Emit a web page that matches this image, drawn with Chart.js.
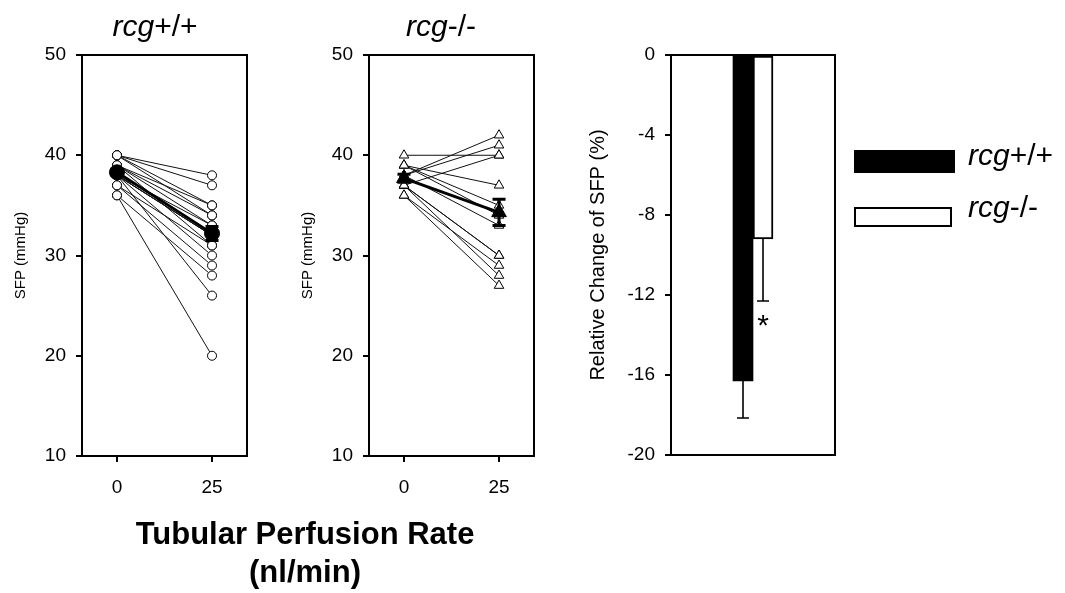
<!DOCTYPE html>
<html><head><meta charset="utf-8">
<script src="https://cdn.jsdelivr.net/npm/chart.js@4.4.1/dist/chart.umd.min.js"></script>
<style>
body{margin:0;background:#fff;width:1065px;height:593px;overflow:hidden;position:relative;font-family:"Liberation Sans",Arial,sans-serif;color:#000;}
canvas{position:absolute;top:0;}
.t{position:absolute;white-space:nowrap;color:#000;}
</style></head><body>
<canvas id="cA" style="left:0px" width="265" height="520"></canvas>
<canvas id="cB" style="left:287px" width="265" height="520"></canvas>
<canvas id="cC" style="left:575px" width="280" height="520"></canvas>

<div class="t" style="left:55px;top:11px;width:200px;text-align:center;font-size:30px;line-height:30px;"><i>rcg</i>+/+</div>
<div class="t" style="left:341px;top:11px;width:200px;text-align:center;font-size:30px;line-height:30px;"><i>rcg</i>-/-</div>

<div class="t" style="left:854px;top:150px;width:101px;height:23px;background:#000;"></div>
<div class="t" style="left:854px;top:207px;width:98px;height:20px;border:2px solid #000;box-sizing:border-box;background:#fff;"></div>
<div class="t" style="left:968px;top:140px;font-size:30px;line-height:30px;"><i>rcg</i>+/+</div>
<div class="t" style="left:968px;top:192px;font-size:30px;line-height:30px;"><i>rcg</i>-/-</div>

<div class="t" style="left:105px;top:515px;width:400px;text-align:center;font-size:31px;line-height:38px;font-weight:bold;">Tubular Perfusion Rate<br>(nl/min)</div>

<script>
// ---- data ----
const perfusionRates = [0, 25];
const sfpTicks = [10, 20, 30, 40, 50];
const wtStart = [40, 40, 39, 40, 38, 39, 38, 38, 39, 37, 38, 37, 36, 38, 36, 39, 40, 38];
const wtEnd   = [38, 37, 35, 34, 33, 33, 32, 32, 31, 31, 30, 29, 28, 26, 20, 34, 35, 32];
const wtMean  = [38.3, 32.2];
const wtSem   = [0.3, 0.7];
const koStart = [38, 40, 38, 37, 39, 39, 39, 37, 36, 37, 36, 38, 37];
const koEnd   = [42, 40, 41, 40, 37, 35, 34, 30, 29, 28, 27, 33, 30];
const koMean  = [37.7, 34.3];
const koSem   = [0.4, 1.3];
const groups = ['rcg+/+', 'rcg-/-'];
const relChange = [-16.3, -9.2];
const relChangeSem = [1.85, 3.1];
const relTicks = [0, -4, -8, -12, -16, -20];

const FONT = '"Liberation Sans", Arial, sans-serif';

const boxPlugin = {
  id: 'box',
  afterDatasetsDraw(chart) {
    const {ctx, chartArea: a} = chart;
    ctx.save();
    ctx.strokeStyle = '#000'; ctx.lineWidth = 2;
    ctx.strokeRect(a.left, a.top, a.right - a.left, a.bottom - a.top);
    ctx.restore();
  }
};

function meanErrPlugin(means, sems, cap, width) {
  return {
    id: 'meanErr',
    afterDatasetsDraw(chart) {
      const xs = chart.scales.x, ys = chart.scales.y, ctx = chart.ctx;
      ctx.save();
      ctx.strokeStyle = '#000'; ctx.lineWidth = width;
      perfusionRates.forEach((xv, i) => {
        const px = xs.getPixelForValue(xv);
        const top = ys.getPixelForValue(means[i] + sems[i]);
        const bot = ys.getPixelForValue(means[i] - sems[i]);
        ctx.beginPath();
        ctx.moveTo(px, top); ctx.lineTo(px, bot);
        ctx.moveTo(px - cap, top); ctx.lineTo(px + cap, top);
        ctx.moveTo(px - cap, bot); ctx.lineTo(px + cap, bot);
        ctx.stroke();
      });
      ctx.restore();
    }
  };
}

function pairedChart(id, starts, ends, means, sems, style, subjRadius, meanRadius) {
  // mean dataset first so it is drawn on top
  const datasets = [{
    data: perfusionRates.map((x, i) => ({x: x, y: means[i]})),
    borderColor: '#000', borderWidth: 2.8,
    pointStyle: style, pointRadius: meanRadius,
    pointBackgroundColor: '#000', pointBorderColor: '#000', pointBorderWidth: 1
  }];
  starts.forEach((s, i) => datasets.push({
    data: [{x: perfusionRates[0], y: s}, {x: perfusionRates[1], y: ends[i]}],
    borderColor: '#111', borderWidth: 1,
    pointStyle: style, pointRadius: subjRadius,
    pointBackgroundColor: '#fff', pointBorderColor: '#000', pointBorderWidth: 1
  }));
  return new Chart(document.getElementById(id), {
    type: 'line',
    data: {datasets},
    plugins: [boxPlugin, meanErrPlugin(means, sems, 6.5, 3)],
    options: {
      responsive: false, animation: false, devicePixelRatio: 1,
      layout: {padding: {left: 0, top: 55, right: 18, bottom: 0}},
      plugins: {legend: {display: false}, tooltip: {enabled: false}},
      scales: {
        x: {
          type: 'linear', min: -9.2, max: 34.2,
          afterBuildTicks: s => { s.ticks = perfusionRates.map(v => ({value: v})); },
          afterFit: s => { s.height = 64; },
          grid: {display: true, drawOnChartArea: false, drawTicks: true, tickLength: 6, lineWidth: 2, color: '#000'},
          border: {display: false},
          ticks: {color: '#000', font: {family: FONT, size: 19}, padding: 14, maxRotation: 0}
        },
        y: {
          type: 'linear', min: 10, max: 50,
          afterBuildTicks: s => { s.ticks = sfpTicks.map(v => ({value: v})); },
          afterFit: s => { s.width = 82; },
          grid: {display: true, drawOnChartArea: false, drawTicks: true, tickLength: 6, lineWidth: 2, color: '#000'},
          border: {display: false},
          ticks: {color: '#000', font: {family: FONT, size: 19}, padding: 10},
          title: {display: true, text: 'SFP (mmHg)', color: '#000', font: {family: FONT, size: 15}, padding: {top: 12, bottom: 0}}
        }
      }
    }
  });
}

pairedChart('cA', wtStart, wtEnd, wtMean, wtSem, 'circle', 4.5, 7.5);
pairedChart('cB', koStart, koEnd, koMean, koSem, 'triangle', 5.5, 8.5);

const barErrPlugin = {
  id: 'barErr',
  afterDatasetsDraw(chart) {
    const ys = chart.scales.y, ctx = chart.ctx;
    ctx.save();
    ctx.strokeStyle = '#000'; ctx.lineWidth = 1.6;
    relChange.forEach((v, i) => {
      const el = chart.getDatasetMeta(i).data[0];
      const y1 = ys.getPixelForValue(v), y2 = ys.getPixelForValue(v - relChangeSem[i]);
      ctx.beginPath();
      ctx.moveTo(el.x, y1); ctx.lineTo(el.x, y2);
      ctx.moveTo(el.x - 6, y2); ctx.lineTo(el.x + 6, y2);
      ctx.stroke();
    });
    const el = chart.getDatasetMeta(1).data[0];
    ctx.fillStyle = '#000'; ctx.textAlign = 'center'; ctx.textBaseline = 'alphabetic';
    ctx.font = '30px ' + FONT;
    ctx.fillText('*', el.x, ys.getPixelForValue(relChange[1] - relChangeSem[1]) + 34);
    ctx.restore();
  }
};

new Chart(document.getElementById('cC'), {
  type: 'bar',
  data: {
    labels: [''],
    datasets: [
      {label: groups[0], data: [relChange[0]], backgroundColor: '#000', borderColor: '#000', borderWidth: 0, barThickness: 20},
      {label: groups[1], data: [relChange[1]], backgroundColor: '#fff', borderColor: '#000', borderWidth: 2, borderSkipped: false, barThickness: 20}
    ]
  },
  plugins: [boxPlugin, barErrPlugin],
  options: {
    responsive: false, animation: false, devicePixelRatio: 1,
    layout: {padding: {left: 0, top: 55, right: 20, bottom: 65}},
    plugins: {legend: {display: false}, tooltip: {enabled: false}},
    scales: {
      x: {display: false},
      y: {
        type: 'linear', min: -20, max: 0,
        afterBuildTicks: s => { s.ticks = relTicks.map(v => ({value: v})); },
        afterFit: s => { s.width = 96; },
        grid: {display: true, drawOnChartArea: false, drawTicks: true, tickLength: 6, lineWidth: 2, color: '#000'},
        border: {display: false},
        ticks: {color: '#000', font: {family: FONT, size: 19}, padding: 10},
        title: {display: true, text: 'Relative Change of SFP (%)', color: '#000', font: {family: FONT, size: 20}, padding: {top: 11, bottom: 0}}
      }
    }
  }
});
</script>
</body></html>
